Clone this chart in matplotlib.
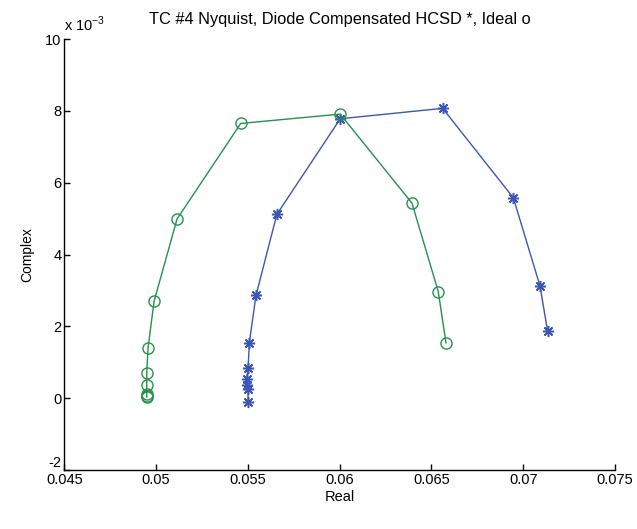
import matplotlib
matplotlib.use('Agg')
from matplotlib import pyplot as plt
from matplotlib.ticker import FuncFormatter

# Ideal response (o), green
ideal_real = [0.04949, 0.04949, 0.04949, 0.04949, 0.04949, 0.04956,
              0.04989, 0.05114, 0.05461, 0.06003, 0.06394, 0.06537, 0.06579]
ideal_imag = [0.03e-3, 0.07e-3, 0.13e-3, 0.36e-3, 0.71e-3, 1.40e-3,
              2.70e-3, 4.99e-3, 7.65e-3, 7.91e-3, 5.43e-3, 2.97e-3, 1.54e-3]

# Diode compensated HCSD (*), blue
hcsd_real = [0.05501, 0.05501, 0.05493, 0.05493, 0.05501, 0.05508,
             0.05544, 0.05658, 0.06003, 0.06561, 0.06946, 0.07091, 0.07133]
hcsd_imag = [-0.11e-3, 0.25e-3, 0.36e-3, 0.53e-3, 0.84e-3, 1.55e-3,
             2.86e-3, 5.12e-3, 7.78e-3, 8.07e-3, 5.58e-3, 3.13e-3, 1.86e-3]

x_ticks = [0.045, 0.05, 0.055, 0.06, 0.065, 0.07, 0.075]
y_ticks = [-2e-3, 0, 2e-3, 4e-3, 6e-3, 8e-3, 10e-3]

FONT = 'Liberation Sans'
FS = 10.5

plt.rcParams['font.family'] = FONT
fig = plt.figure(figsize=(6.37, 5.29), dpi=100)
ax = fig.add_axes([0.101, 0.1115, 0.8645, 0.8147])

ax.plot(hcsd_real, hcsd_imag, color='#3b56b4', lw=1.0,
        marker=(8, 2, 0), ms=8, mew=1.1)
ax.plot(ideal_real, ideal_imag, color='#23934a', lw=1.0,
        marker='o', ms=8, mfc='none', mew=1.0)

ax.set_xlim(0.045, 0.075)
ax.set_ylim(-2e-3, 10e-3)
ax.set_xticks(x_ticks)
ax.set_yticks(y_ticks)
ax.xaxis.set_major_formatter(FuncFormatter(lambda v, p: f'{v:g}'))
ax.yaxis.set_major_formatter(FuncFormatter(lambda v, p: f'{round(v * 1e3):d}'))

for side in ('top', 'right'):
    ax.spines[side].set_visible(False)
for side in ('left', 'bottom'):
    ax.spines[side].set_linewidth(1.0)
ax.tick_params(direction='in', length=4, width=1.0, labelsize=FS, pad=2)

# lift the lowest y label clear of the first x label, as in the original
ax.yaxis.get_major_ticks()[0].label1.set_va('bottom')

ax.set_title('TC #4 Nyquist, Diode Compensated HCSD *, Ideal o',
             fontsize=11.8, pad=11)
ax.set_xlabel('Real', fontsize=FS, labelpad=2)
ax.set_ylabel('Complex', fontsize=10, labelpad=8)
ax.text(0.0, 1.012, r'x 10$^{\mathregular{-3}}$', transform=ax.transAxes,
        fontsize=FS, ha='left', va='bottom')

fig.savefig('out.png', dpi=100)
